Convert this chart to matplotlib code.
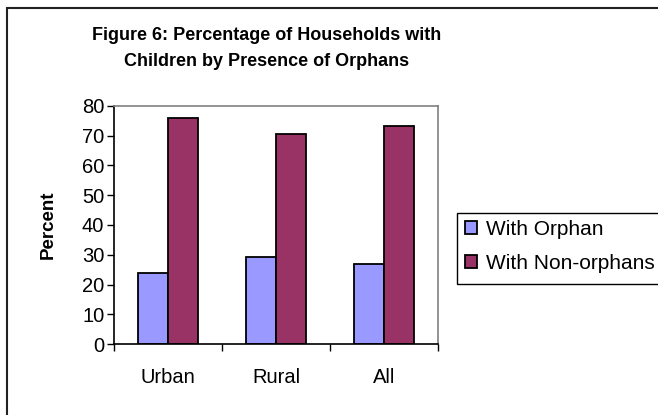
import numpy as np
import matplotlib.pyplot as plt
from matplotlib.patches import Rectangle

plt.rcParams['font.family'] = ['Liberation Sans', 'DejaVu Sans']

# household shares (percent)
regions = ['Urban', 'Rural', 'All']
with_orphan = [24.0, 29.2, 26.8]
with_non_orphans = [76.0, 70.7, 73.4]
series_names = ['With Orphan', 'With Non-orphans']
colors = ['#9999FF', '#993366']

W, H = 658, 415
fig = plt.figure(figsize=(W / 100, H / 100), dpi=100)

# outer chart frame
fig.patches.append(Rectangle((7 / W, -0.1), 1.0, 1.1 - 8 / H,
                             transform=fig.transFigure, fill=False,
                             edgecolor='#222222', linewidth=1.5))

ax = fig.add_axes([114 / W, 71 / H, 324 / W, 238 / H])

x = np.arange(len(regions))
w = 0.28
ax.bar(x - w / 2, with_orphan, w, color=colors[0], edgecolor='black',
       linewidth=1.3, label=series_names[0])
ax.bar(x + w / 2, with_non_orphans, w, color=colors[1], edgecolor='black',
       linewidth=1.3, label=series_names[1])

ax.set_xlim(-0.5, 2.5)
ax.set_ylim(0, 80)
ax.set_yticks(range(0, 81, 10))
ax.set_xticks(x)
ax.set_xticklabels(regions, fontsize=14.5)
ax.tick_params(axis='x', which='major', length=0, pad=17)
ax.set_xticks(np.arange(-0.5, 3, 1), minor=True)
ax.tick_params(axis='x', which='minor', length=5, width=1, direction='out')
ax.tick_params(axis='y', length=5, width=1, direction='out', labelsize=14.5, pad=2)

for s in ['top', 'right']:
    ax.spines[s].set_color('#808080')
    ax.spines[s].set_linewidth(1.2)
for s in ['left', 'bottom']:
    ax.spines[s].set_linewidth(1.2)

ax.set_ylabel('Percent', fontsize=13.5, fontweight='bold', labelpad=18)

fig.text(267 / W, 1 - 36 / H, 'Figure 6: Percentage of Households with',
         ha='center', va='center', fontsize=13, fontweight='bold')
fig.text(267 / W, 1 - 61 / H, 'Children by Presence of Orphans',
         ha='center', va='center', fontsize=13, fontweight='bold')

# legend entries, boxed by a separate frame
fig.legend(loc='upper left', bbox_to_anchor=(465 / W, 1 - 220 / H),
           fontsize=15, frameon=False, handlelength=0.58, handleheight=0.58,
           handletextpad=0.42, borderpad=0, labelspacing=0.72,
           borderaxespad=0)
fig.patches.append(Rectangle((457 / W, 1 - 284 / H), 210 / W, 71 / H,
                             transform=fig.transFigure, fill=False,
                             edgecolor='black', linewidth=1))

fig.savefig('out.png', dpi=100)
